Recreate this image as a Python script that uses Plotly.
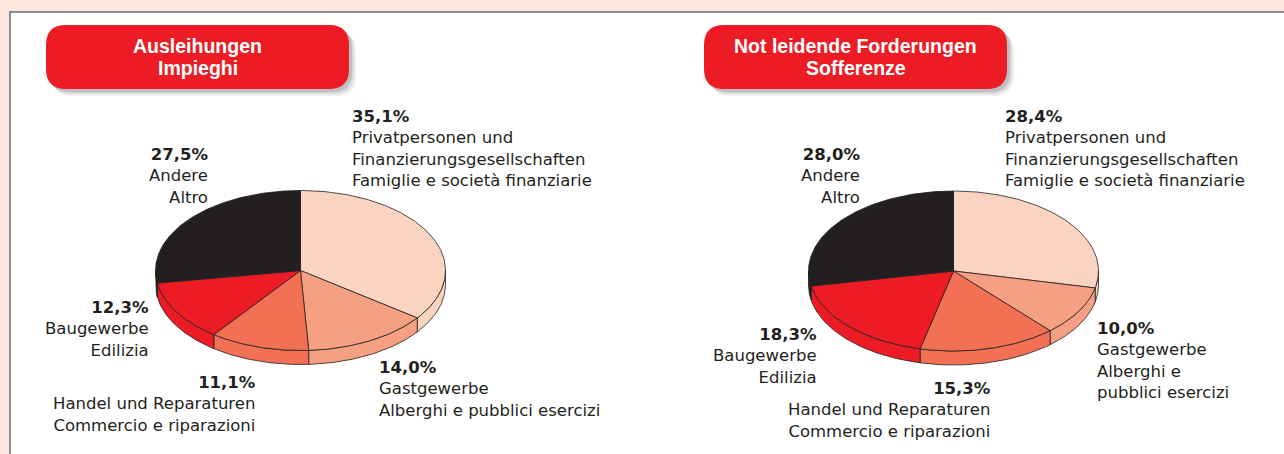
import numpy as np
import plotly.graph_objects as go

# ---------------- data ----------------
categories_de = ["Privatpersonen und<br>Finanzierungsgesellschaften", "Gastgewerbe",
                 "Handel und Reparaturen", "Baugewerbe", "Andere"]
categories_it = ["Famiglie e società finanziarie", "Alberghi e pubblici esercizi",
                 "Commercio e riparazioni", "Edilizia", "Altro"]
loans_values = [35.1, 14.0, 11.1, 12.3, 27.5]          # Ausleihungen / Impieghi
bad_loans_values = [28.4, 10.0, 15.3, 18.3, 28.0]      # Not leidende Forderungen / Sofferenze
chart_titles = [["Ausleihungen", "Impieghi"], ["Not leidende Forderungen", "Sofferenze"]]
slice_colors = ["#FBD3C1", "#F6A083", "#F27155", "#ED1C24", "#231F20"]

# ---------------- layout constants ----------------
W, H = 1284, 454
RX, RY, DEPTH = 145, 80, 14
TXT = "#231F20"
FONT = "DejaVu Sans, Verdana, sans-serif"
TFONT = "Liberation Sans, Arial, sans-serif"

fig = go.Figure()


def arc(cx, cy, t0, t1, dy=0.0):
    n = max(int(abs(t1 - t0) / (np.pi / 180)) + 2, 3)
    t = np.linspace(t0, t1, n)
    return cx + RX * np.sin(t), cy - RY * np.cos(t) + dy


def pie(cx, cy, values):
    vals = np.asarray(values, dtype=float)
    fr = np.concatenate([[0], np.cumsum(vals) / vals.sum()]) * 2 * np.pi
    # sides (visible front half: theta in [pi/2, 3pi/2])
    for i in range(len(vals)):
        a, b = max(fr[i], np.pi / 2), min(fr[i + 1], 3 * np.pi / 2)
        if b <= a:
            continue
        xt, yt = arc(cx, cy, a, b)
        xb, yb = arc(cx, cy, b, a, DEPTH)
        fig.add_trace(go.Scatter(
            x=np.concatenate([xt, xb, xt[:1]]), y=np.concatenate([yt, yb, yt[:1]]),
            mode="lines", fill="toself", fillcolor=slice_colors[i],
            line=dict(color="#231F20", width=0.8), hoverinfo="skip", showlegend=False))
    # top wedges
    for i in range(len(vals)):
        xa, ya = arc(cx, cy, fr[i], fr[i + 1])
        fig.add_trace(go.Scatter(
            x=np.concatenate([[cx], xa, [cx]]), y=np.concatenate([[cy], ya, [cy]]),
            mode="lines", fill="toself", fillcolor=slice_colors[i],
            line=dict(color="#231F20", width=0.8), hoverinfo="skip", showlegend=False))


pie(300.5, 270.5, loans_values)
pie(953.5, 271, bad_loans_values)


def label(x, y, value, text, anchor):
    pct = f"{value:.1f}".replace(".", ",") + "%"
    fig.add_annotation(x=x, y=y, xref="x", yref="y", text=f"<b>{pct}</b><br>{text}",
                       showarrow=False, xanchor=anchor, yanchor="middle",
                       align=anchor, font=dict(family=FONT, size=16.5, color=TXT))


# left pie labels
label(350, 148.5, loans_values[0], categories_de[0] + "<br>" + categories_it[0], "left")
label(377, 389, loans_values[1], categories_de[1] + "<br>" + categories_it[1], "left")
label(258, 404, loans_values[2], categories_de[2] + "<br>" + categories_it[2], "right")
label(151, 328.5, loans_values[3], categories_de[3] + "<br>" + categories_it[3], "right")
label(210, 175.5, loans_values[4], categories_de[4] + "<br>" + categories_it[4], "right")

# right pie labels
label(1003, 148.5, bad_loans_values[0], categories_de[0] + "<br>" + categories_it[0], "left")
label(1095, 360.5, bad_loans_values[1], categories_de[1] + "<br>Alberghi e<br>pubblici esercizi", "left")
label(993, 410, bad_loans_values[2], categories_de[2] + "<br>" + categories_it[2], "right")
label(819, 355.5, bad_loans_values[3], categories_de[3] + "<br>" + categories_it[3], "right")
label(862, 175.5, bad_loans_values[4], categories_de[4] + "<br>" + categories_it[4], "right")


def rounded(x0, y0, x1, y1, r):
    return (f"M{x0+r},{y0} L{x1-r},{y0} Q{x1},{y0} {x1},{y0+r} L{x1},{y1-r} "
            f"Q{x1},{y1} {x1-r},{y1} L{x0+r},{y1} Q{x0},{y1} {x0},{y1-r} "
            f"L{x0},{y0+r} Q{x0},{y0} {x0+r},{y0} Z")


shapes = [
    dict(type="rect", x0=10, y0=12, x1=W + 10, y1=H + 10, fillcolor="white",
         line=dict(color="#6D6E70", width=1.5), layer="below"),
]
for (bx0, bx1, tcx), title in zip([(46, 349, 197.5), (704, 1007, 855.5)], chart_titles):
    for k, op in [(7, 0.12), (5, 0.2), (3, 0.3)]:
        shapes.append(dict(type="path", path=rounded(bx0 + k, 25 + k, bx1 + k, 89 + k, 20),
                           fillcolor="#808080", opacity=op, line=dict(width=0), layer="below"))
    shapes.append(dict(type="path", path=rounded(bx0, 25, bx1, 89, 20), fillcolor="#ED1C24",
                       line=dict(width=0), layer="below"))
    for line_text, ty in zip(title, [46, 67.5]):
        fig.add_annotation(x=tcx, y=ty, xref="x", yref="y", text=f"<b>{line_text}</b>",
                           showarrow=False, xanchor="center", yanchor="middle", align="center",
                           font=dict(family=TFONT, size=19.5, color="white"))

fig.update_layout(
    width=W, height=H, margin=dict(l=0, r=0, t=0, b=0),
    paper_bgcolor="#FDE6DC", plot_bgcolor="#FDE6DC",
    xaxis=dict(range=[0, W], visible=False, fixedrange=True),
    yaxis=dict(range=[H, 0], visible=False, fixedrange=True),
    shapes=shapes, showlegend=False,
)
fig.write_html("out.html", config={"displayModeBar": False},
               post_script="document.body.style.margin='0';document.body.style.background='#FDE6DC';")
